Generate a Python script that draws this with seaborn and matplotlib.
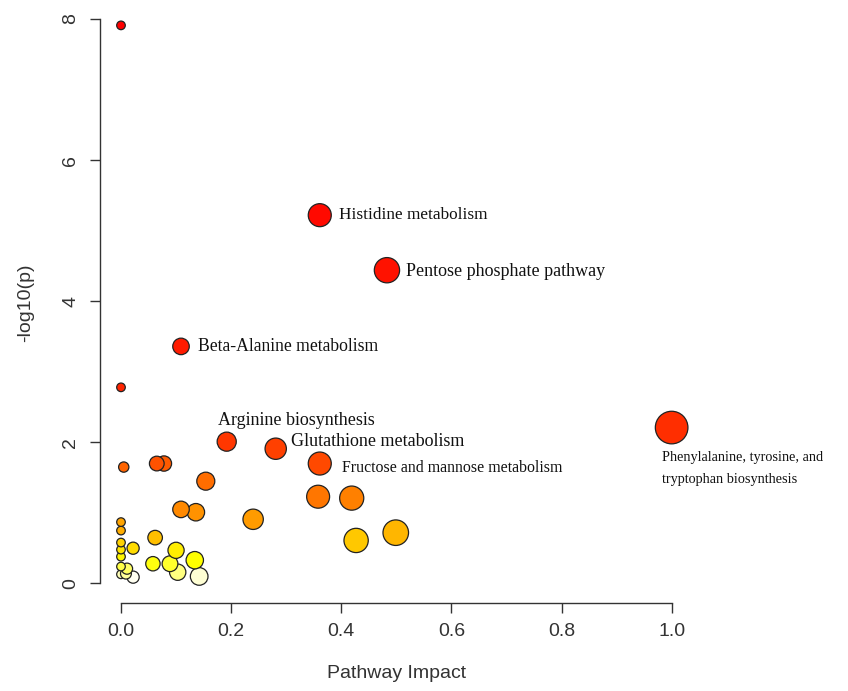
import colorsys
import numpy as np
import pandas as pd
import seaborn as sns
import matplotlib.pyplot as plt

# pathway impact (x) and -log10(p) (y)
impact = [0.0, 0.361, 0.483, 0.109, 0.0, 1.0, 0.192, 0.281, 0.361, 0.005,
          0.065, 0.078, 0.154, 0.358, 0.419, 0.109, 0.136, 0.240, 0.499, 0.427,
          0.0, 0.0, 0.062, 0.0, 0.0, 0.022, 0.100, 0.0, 0.134, 0.058,
          0.089, 0.0, 0.011, 0.103, 0.0, 0.009, 0.142, 0.022]
logp = [7.91, 5.22, 4.44, 3.36, 2.78, 2.21, 2.01, 1.91, 1.70, 1.65,
        1.70, 1.70, 1.45, 1.23, 1.21, 1.05, 1.01, 0.91, 0.72, 0.61,
        0.87, 0.75, 0.65, 0.58, 0.48, 0.50, 0.47, 0.38, 0.33, 0.28,
        0.28, 0.24, 0.21, 0.16, 0.13, 0.14, 0.10, 0.09]

# labelled pathways: index into the arrays above
labels = {
    1: "Histidine metabolism",
    2: "Pentose phosphate pathway",
    3: "Beta-Alanine metabolism",
    5: "Phenylalanine, tyrosine, and\ntryptophan biosynthesis",
    6: "Arginine biosynthesis",
    7: "Glutathione metabolism",
    8: "Fructose and mannose metabolism",
}
# text placement (offset in points, font size)
label_pos = {
    1: ((14, 0), 12.4),
    2: ((14, -1), 13.0),
    3: ((12, 0), 12.7),
    5: ((-7, -17), 10.3),
    6: ((-6, 15), 13.0),
    7: ((11, 5), 13.0),
    8: ((16, -3), 11.4),
}

df = pd.DataFrame({"impact": impact, "logp": logp})
df["rank"] = df["logp"].rank(ascending=False, method="first").astype(int)

# R style heat.colors(n)
n = len(df)
j = n // 4
i = n - j
heat = [colorsys.hsv_to_rgb(h, 1, 1) for h in np.linspace(0, 1 / 6, i)]
heat += [colorsys.hsv_to_rgb(1 / 6, s, 1) for s in np.linspace(1 - 1 / (2 * j), 1 / (2 * j), j)]
palette = {r: heat[r - 1] for r in range(1, n + 1)}

# bubble size grows with sqrt(impact), like the original
radius_px = 4.3 + 12 * np.sqrt(df["impact"])
df["area"] = (1.44 * radius_px) ** 2
amin, amax = df["area"].min(), df["area"].max()

sns.set_theme(style="white")
plt.rcParams["font.family"] = ["Liberation Sans", "DejaVu Sans"]

fig = plt.figure(figsize=(8.48, 6.91), dpi=100)
ax = fig.add_axes([0.118, 0.127, 0.700, 0.871])

order = df.sort_values("rank", ascending=False)
sns.scatterplot(data=order, x="impact", y="logp", hue="rank", palette=palette,
                size="area", sizes=(amin, amax), size_norm=(amin, amax),
                edgecolor="#222222", linewidth=0.9, legend=False, ax=ax)

for idx, text in labels.items():
    off, fs = label_pos[idx]
    va = "top" if "\n" in text else "center"
    ax.annotate(text, (impact[idx], logp[idx]), xytext=off, textcoords="offset points",
                ha="left", va=va, fontsize=fs, family="Liberation Serif", color="#111111",
                linespacing=1.85, annotation_clip=False)

ax.set_xlim(-0.038, 1.04)
ax.set_ylim(-0.28, 8.25)
ax.set_xticks([0.0, 0.2, 0.4, 0.6, 0.8, 1.0])
ax.set_xticklabels(["0.0", "0.2", "0.4", "0.6", "0.8", "1.0"])
ax.set_yticks([0, 2, 4, 6, 8])

for side in ["top", "right"]:
    ax.spines[side].set_visible(False)
ax.spines["left"].set_bounds(0, 8)
ax.spines["bottom"].set_bounds(0, 1)
for side in ["left", "bottom"]:
    ax.spines[side].set_color("#333333")
    ax.spines[side].set_linewidth(1.0)

ax.tick_params(axis="both", which="major", direction="out", length=7, width=1.0,
               color="#333333", labelsize=14, labelcolor="#333333",
               left=True, bottom=True)
ax.tick_params(axis="x", pad=7)
ax.tick_params(axis="y", pad=8)
for lab in ax.get_yticklabels():
    lab.set_rotation(90)
    lab.set_va("center")

ax.set_xlabel("Pathway Impact", fontsize=14, color="#333333", labelpad=18)
ax.set_ylabel("-log10(p)", fontsize=14, color="#333333", labelpad=20)

fig.savefig("out.png", dpi=100)
